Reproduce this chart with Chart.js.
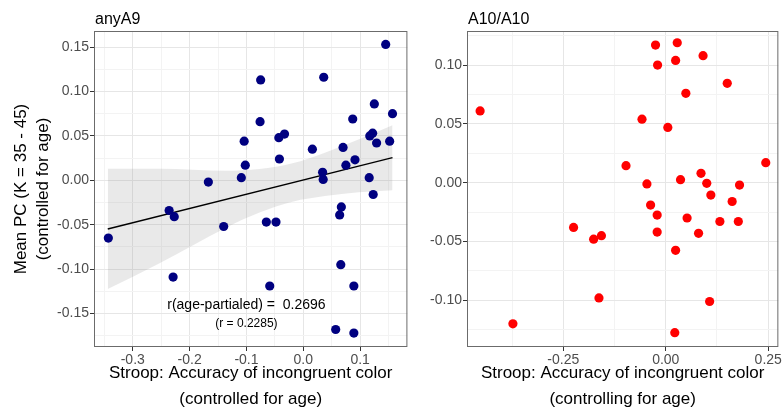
<!DOCTYPE html>
<html>
<head>
<meta charset="utf-8">
<script src="https://cdn.jsdelivr.net/npm/chart.js@4.4.0/dist/chart.umd.min.js"></script>
<style>
  body { margin: 0; background: #fff; }
  #wrap { position: relative; width: 783px; height: 408px; }
  canvas { position: absolute; top: 0; }
  #leftChart { left: 0; }
  #rightChart { left: 412px; }
</style>
</head>
<body>
<div id="wrap">
  <canvas id="leftChart" width="412" height="408"></canvas>
  <canvas id="rightChart" width="371" height="408"></canvas>
</div>
<script>
// ===== anyA9 panel data =====
const anyA9X = [-0.343, -0.236, -0.227, -0.229, -0.167, -0.140, -0.109, -0.102, -0.104, -0.075,
  -0.076, -0.065, -0.048, -0.059, -0.042, -0.043, -0.033, 0.016, 0.036, 0.034,
  0.035, 0.070, 0.075, 0.067, 0.064, 0.066, 0.057, 0.087, 0.091, 0.089,
  0.089, 0.116, 0.117, 0.122, 0.125, 0.129, 0.123, 0.145, 0.152, 0.157];
const anyA9Y = [-0.065, -0.034, -0.041, -0.109, -0.002, -0.052, 0.003, 0.017, 0.044, 0.113,
  0.066, -0.047, -0.047, -0.119, 0.024, 0.048, 0.052, 0.035, 0.116, 0.009,
  0.001, 0.037, 0.017, -0.030, -0.039, -0.095, -0.168, 0.069, 0.023, -0.119,
  -0.172, 0.003, 0.050, 0.053, 0.086, 0.042, -0.016, 0.153, 0.044, 0.075];

// fitted line and its confidence band
const fitX = [-0.344, 0.157];
const fitY = [-0.0548, 0.0255];
const bandX = [-0.344, -0.252, -0.136, -0.077, -0.019, 0.038, 0.097, 0.157];
const bandUpper = [0.0129, 0.0130, 0.0107, 0.0127, 0.0191, 0.0311, 0.0459, 0.0621];
const bandLower = [-0.1225, -0.0930, -0.0533, -0.0363, -0.0241, -0.0177, -0.0135, -0.0111];

// ===== A10/A10 panel data =====
const a10X = [-0.453, -0.373, -0.225, -0.176, -0.157, -0.163, -0.097, -0.058, -0.046, -0.037,
  -0.025, -0.020, -0.021, -0.021, 0.005, 0.024, 0.028, 0.024, 0.022, 0.036,
  0.049, 0.052, 0.080, 0.086, 0.091, 0.100, 0.107, 0.110, 0.132, 0.150,
  0.162, 0.177, 0.180, 0.244];
const a10Y = [0.061, -0.120, -0.038, -0.048, -0.045, -0.098, 0.0145, 0.054, -0.001, -0.019,
  0.117, 0.100, -0.0275, -0.042, 0.047, 0.104, 0.119, -0.0575, -0.1275, 0.0026,
  0.076, -0.030, -0.043, 0.008, 0.108, -0.0005, -0.101, -0.0105, -0.033, 0.0845,
  -0.016, -0.033, -0.002, 0.017];

// ===== ticks =====
const leftXMajor = [-0.3, -0.2, -0.1, 0.0, 0.1];
const leftXLabels = ["-0.3", "-0.2", "-0.1", "0.0", "0.1"];
const leftXMinor = [-0.35, -0.25, -0.15, -0.05, 0.05, 0.15];
const leftYMajor = [-0.15, -0.10, -0.05, 0.00, 0.05, 0.10, 0.15];
const leftYLabels = ["-0.15", "-0.10", "-0.05", "0.00", "0.05", "0.10", "0.15"];
const leftYMinor = [-0.175, -0.125, -0.075, -0.025, 0.025, 0.075, 0.125];

const rightXMajor = [-0.25, 0.00, 0.25];
const rightXLabels = ["-0.25", "0.00", "0.25"];
const rightXMinor = [-0.375, -0.125, 0.125];
const rightYMajor = [-0.10, -0.05, 0.00, 0.05, 0.10];
const rightYLabels = ["-0.10", "-0.05", "0.00", "0.05", "0.10"];
const rightYMinor = [-0.125, -0.075, -0.025, 0.025, 0.075, 0.125];

Chart.defaults.font.family = "'Liberation Sans', Arial, sans-serif";

const pts = (xs, ys) => xs.map((x, i) => ({ x: x, y: ys[i] }));
const near = (v, list) => list.findIndex(m => Math.abs(m - v) < 1e-9);

// axis with ggplot-style major/minor grid
function makeAxis(major, labels, minor, min, max, fontSize, extra) {
  return Object.assign({
    type: "linear",
    min: min,
    max: max,
    afterBuildTicks: s => {
      s.ticks = major.concat(minor).sort((a, b) => a - b).map(v => ({ value: v }));
    },
    ticks: {
      autoSkip: false,
      maxRotation: 0,
      padding: 1,
      color: "#4d4d4d",
      font: { size: fontSize },
      callback: v => {
        const i = near(v, major);
        return i >= 0 ? labels[i] : "";
      }
    },
    grid: {
      color: c => near(c.tick.value, major) >= 0 ? "#e6e6e6" : "#f3f3f3",
      lineWidth: 1,
      tickLength: 4,
      tickColor: c => near(c.tick.value, major) >= 0 ? "#333" : "rgba(0,0,0,0)"
    },
    border: { display: false }
  }, extra);
}

// panel box + panel title
const panelFrame = {
  id: "panelFrame",
  afterDraw(chart, args, opts) {
    const { ctx, chartArea: a } = chart;
    ctx.save();
    ctx.strokeStyle = "#6b6b6b";
    ctx.lineWidth = 1;
    ctx.strokeRect(a.left + 0.5, a.top + 0.5, a.right - a.left - 1, a.bottom - a.top - 1);
    ctx.fillStyle = "#000";
    ctx.font = "16px 'Liberation Sans', Arial, sans-serif";
    ctx.textAlign = "left";
    ctx.textBaseline = "alphabetic";
    ctx.fillText(opts.title, a.left + 1, 24);
    ctx.restore();
  }
};

// correlation note in the anyA9 panel
const corrNote = {
  id: "corrNote",
  afterDatasetsDraw(chart) {
    const { ctx, scales } = chart;
    const cx = scales.x.getPixelForValue(-0.100);
    ctx.save();
    ctx.fillStyle = "#000";
    ctx.textAlign = "center";
    ctx.textBaseline = "middle";
    ctx.font = "14px 'Liberation Sans', Arial, sans-serif";
    ctx.fillText("r(age-partialed) =  0.2696", cx, scales.y.getPixelForValue(-0.1404));
    ctx.font = "12px 'Liberation Sans', Arial, sans-serif";
    ctx.fillText("(r = 0.2285)", cx, scales.y.getPixelForValue(-0.161));
    ctx.restore();
  }
};

const xTitleFont = { size: 17, lineHeight: 1.5 };
const yTitleFont = { size: 17, lineHeight: 1.3 };

// === anyA9 chart ===
new Chart(document.getElementById("leftChart"), {
  type: "scatter",
  data: {
    datasets: [
      {
        data: pts(anyA9X, anyA9Y),
        backgroundColor: "#000080",
        pointRadius: 4.6,
        pointBorderWidth: 0,
        order: 0
      },
      {
        type: "line",
        data: pts(fitX, fitY),
        borderColor: "#000",
        borderWidth: 1.4,
        pointRadius: 0,
        fill: false,
        order: 1
      },
      {
        type: "line",
        data: pts(bandX, bandUpper),
        borderWidth: 0,
        borderColor: "rgba(0,0,0,0)",
        backgroundColor: "rgba(153,153,153,0.22)",
        pointRadius: 0,
        cubicInterpolationMode: "monotone",
        fill: "+1",
        order: 2
      },
      {
        type: "line",
        data: pts(bandX, bandLower),
        borderWidth: 0,
        borderColor: "rgba(0,0,0,0)",
        pointRadius: 0,
        cubicInterpolationMode: "monotone",
        fill: false,
        order: 3
      }
    ]
  },
  options: {
    responsive: false,
    animation: false,
    layout: { padding: { top: 31, right: 2, left: 0, bottom: 0 } },
    plugins: { legend: { display: false }, tooltip: { enabled: false }, panelFrame: { title: "anyA9" } },
    scales: {
      x: makeAxis(leftXMajor, leftXLabels, leftXMinor, -0.3682, 0.1832, 14, {
        afterFit: s => { s.height = 61; },
        title: {
          display: true,
          text: ["Stroop: Accuracy of incongruent color", "(controlled for age)"],
          color: "#000",
          font: xTitleFont,
          padding: { top: 0, bottom: -4 }
        }
      }),
      y: makeAxis(leftYMajor, leftYLabels, leftYMinor, -0.1877, 0.1681, 14, {
        afterFit: s => { s.width = 94; },
        title: {
          display: true,
          text: ["Mean PC (K = 35 - 45)", "(controlled for age)"],
          color: "#000",
          font: yTitleFont,
          padding: { top: 10, bottom: 0 }
        }
      })
    }
  },
  plugins: [panelFrame, corrNote]
});

// === A10/A10 chart ===
new Chart(document.getElementById("rightChart"), {
  type: "scatter",
  data: {
    datasets: [{
      data: pts(a10X, a10Y),
      backgroundColor: "#ff0000",
      pointRadius: 4.6,
      pointBorderWidth: 0
    }]
  },
  options: {
    responsive: false,
    animation: false,
    layout: { padding: { top: 31, right: 3, left: 0, bottom: 0 } },
    plugins: { legend: { display: false }, tooltip: { enabled: false }, panelFrame: { title: "A10/A10" } },
    scales: {
      x: makeAxis(rightXMajor, rightXLabels, rightXMinor, -0.485, 0.2747, 14, {
        afterFit: s => { s.height = 61; },
        title: {
          display: true,
          text: ["Stroop: Accuracy of incongruent color", "(controlling for age)"],
          color: "#000",
          font: xTitleFont,
          padding: { top: 0, bottom: -4 }
        }
      }),
      y: makeAxis(rightYMajor, rightYLabels, rightYMinor, -0.1397, 0.129, 14, {
        afterFit: s => { s.width = 55; }
      })
    }
  },
  plugins: [panelFrame]
});
</script>
</body>
</html>
